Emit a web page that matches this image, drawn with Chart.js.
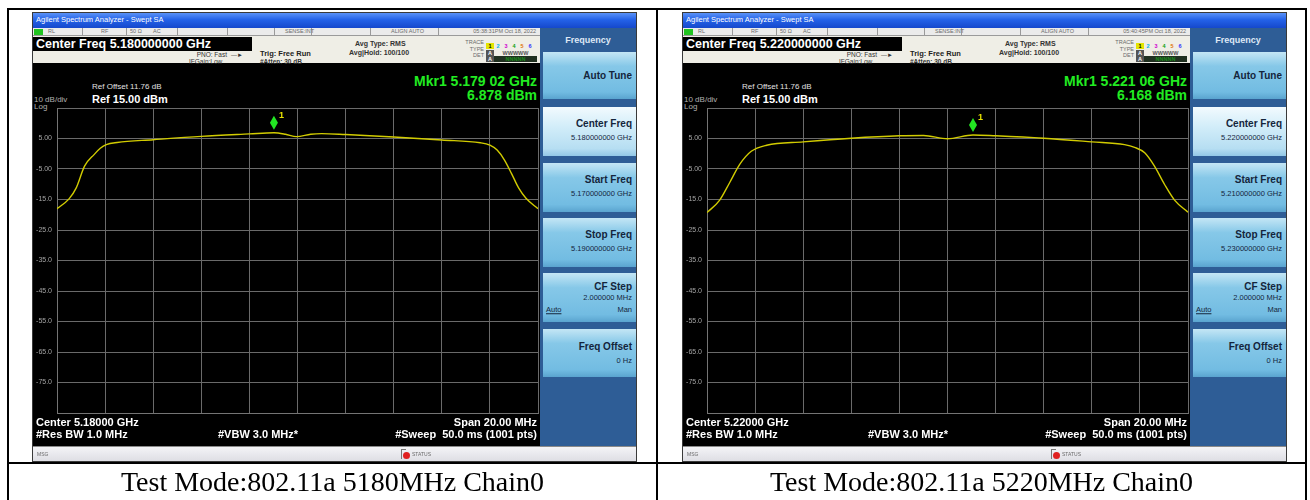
<!DOCTYPE html>
<html>
<head>
<meta charset="utf-8">
<script src="https://cdn.jsdelivr.net/npm/chart.js@4.4.0/dist/chart.umd.min.js"></script>
<style>
body { margin:0; width:1310px; height:500px; background:#fff; position:relative; overflow:hidden; font-family:"Liberation Sans", Arial, sans-serif; }
.ln { position:absolute; background:#000; }
.cap { position:absolute; top:464px; height:36px; line-height:36px; text-align:center; font-family:"Liberation Serif", "Times New Roman", serif; font-size:28px; color:#000; white-space:nowrap; }
.sa { position:absolute; top:12px; width:605px; height:450px; background:#000; border:1px solid #3a3a3a; box-sizing:border-box; overflow:hidden; }
.t { position:absolute; white-space:nowrap; transform:translateY(-50%); line-height:1; }
.r { transform:translate(-100%,-50%); }
.title { position:absolute; left:0; top:0; width:603px; height:15px; background:linear-gradient(#5a92f7,#2462e8 45%,#1548cc); }
.stat { position:absolute; left:0; top:15px; width:507px; height:8px; background:#ebebeb; border-bottom:1px solid #9a9a9a; box-sizing:border-box; }
.sep { position:absolute; top:0; width:1px; height:8px; background:#9a9a9a; }
.hdr { position:absolute; left:0; top:23px; width:507px; height:27px; background:#efeee6; }
.cfbox { position:absolute; left:0; top:24px; width:219px; height:14px; background:#000; }
.soft { position:absolute; left:507px; top:15px; width:96px; height:418px; background:#2e5d96; }
.btn { position:absolute; left:3px; width:93px; background:linear-gradient(#c4e6f5,#86c8e8 30%,#72bce2 85%,#5aa4cf); }
.btn.hi { background:linear-gradient(#f2fafe,#d2edf9 40%,#b6def2 85%,#93c8e6); }
.bt { font-weight:bold; font-size:10px; color:#14253c; }
.bv { font-size:7.5px; color:#14253c; }
.msg { position:absolute; left:0; top:433px; width:603px; height:15px; background:linear-gradient(#f4f4f7,#dedee4); border-top:1px solid #8a8a8a; box-sizing:border-box; }
.w { color:#fff; font-weight:bold; font-size:11px; }
.g { color:#b0b0b0; font-size:8px; }
.mk { color:#22ec22; font-weight:bold; font-size:14px; }
.sm { font-size:5.5px; color:#6a6a6a; }
.hd { font-size:6.5px; color:#333; }
.tb { display:inline-block; width:8px; height:6px; font-size:5.5px; line-height:6px; text-align:center; font-weight:bold; }
</style>
</head>
<body>
<script>
// spectrum traces (MHz, dBm)
const trace0Freq = [5170.0, 5170.5, 5170.8, 5171.15, 5171.55, 5171.8, 5172.05, 5172.5, 5174.0, 5176.0, 5178.0, 5179.02, 5179.5, 5179.96, 5180.55, 5181.0, 5182.0, 5184.0, 5186.0, 5187.6, 5188.0, 5188.3, 5188.6, 5188.9, 5189.2, 5189.5, 5190.0];
const trace0Level = [-18.0, -14.8, -11.2, -4.0, -0.2, 1.8, 3.0, 3.7, 4.6, 5.7, 6.5, 6.88, 6.4, 5.6, 6.4, 6.6, 6.3, 5.5, 4.5, 3.6, 2.8, 1.2, -2.0, -6.5, -11.3, -14.6, -18.0];
const trace1Freq = [5210.0, 5210.52, 5210.94, 5211.36, 5211.84, 5212.48, 5214.0, 5216.0, 5218.0, 5219.0, 5220.0, 5221.06, 5222.0, 5224.0, 5226.0, 5227.36, 5227.78, 5228.2, 5228.6, 5229.02, 5229.44, 5230.0];
const trace1Level = [-19.3, -15.3, -9.5, -3.5, 0.8, 2.8, 3.9, 5.1, 5.9, 6.0, 4.9, 6.17, 5.9, 5.1, 3.9, 3.0, 2.1, 0.3, -4.0, -10.0, -15.2, -19.2];

const spanStart = [5170, 5210];
const spanStop = [5190, 5230];
const mkrFreq = [5179.02, 5221.06];
const mkrLevel = [6.878, 6.168];

const yTickValues = [15, 5, -5, -15, -25, -35, -45, -55, -65, -75, -85];
const yTickLabels = ['', '5.00', '-5.00', '-15.0', '-25.0', '-35.0', '-45.0', '-55.0', '-65.0', '-75.0', ''];

const centerText = ['5.180000000 GHz', '5.220000000 GHz'];
const startText = ['5.170000000 GHz', '5.210000000 GHz'];
const stopText = ['5.190000000 GHz', '5.230000000 GHz'];
const centerShort = ['5.18000 GHz', '5.22000 GHz'];
const mkrText = ['Mkr1 5.179 02 GHz', 'Mkr1 5.221 06 GHz'];
const mkrDbm = ['6.878 dBm', '6.168 dBm'];
const timeText = ['05:38:31PM Oct 18, 2022', '05:40:45PM Oct 18, 2022'];
const captions = ['Test Mode:802.11a 5180MHz Chain0', 'Test Mode:802.11a 5220MHz Chain0'];

const panelX = [32, 682];

function t(x, y, txt, cls, extra) {
  return `<div class="t ${cls}" style="left:${x}px;top:${y}px;${extra || ''}">${txt}</div>`;
}

function button(top, h, hi, lines) {
  let s = `<div class="btn${hi ? ' hi' : ''}" style="top:${top}px;height:${h}px">`;
  lines.forEach(l => { s += t(l[0], l[1], l[2], l[3], l[4]); });
  return s + '</div>';
}

function panelHtml(i) {
  let h = `<div class="sa" style="left:${panelX[i]}px">`;
  h += '<div class="title">' + t(3, 7, 'Agilent Spectrum Analyzer - Swept SA', '', 'font-size:7.5px;color:#fff') + '</div>';
  // status row
  h += '<div class="stat">';
  [49, 93, 144, 194, 241, 278, 337, 405].forEach(x => { h += `<div class="sep" style="left:${x}px"></div>`; });
  h += `<div style="position:absolute;left:1px;top:1px;width:9px;height:6px;background:#21c421"></div>`;
  h += t(15, 4, 'RL', 'sm') + t(68, 4, 'RF', 'sm') + t(97, 4, '50 Ω', 'sm') + t(120, 4, 'AC', 'sm');
  h += t(252, 4, 'SENSE:INT', 'sm') + t(358, 4, 'ALIGN AUTO', 'sm') + t(503, 4, timeText[i], 'sm r');
  h += '</div>';
  // header
  h += '<div class="hdr"></div><div class="cfbox"></div>';
  h += t(3, 31, 'Center Freq ' + centerText[i], 'w', 'font-size:12.5px');
  h += t(194, 42, 'PNO: Fast', 'hd r') + t(198, 42, '—►', 'hd', 'font-size:6px');
  h += t(156, 49, 'IFGain:Low', 'hd');
  h += t(227, 41, 'Trig: Free Run', 'hd', 'font-size:7.5px;font-weight:bold;color:#222');
  h += t(227, 49, '#Atten: 30 dB', 'hd', 'font-weight:bold');
  h += t(322, 30, 'Avg Type: RMS', 'hd', 'font-size:7px;font-weight:bold');
  h += t(316, 39, 'Avg|Hold: 100/100', 'hd', 'font-size:7px;font-weight:bold');
  h += t(451, 30, 'TRACE', 'sm r') + t(451, 37, 'TYPE', 'sm r') + t(451, 43, 'DET', 'sm r');
  const trc = [['1', '#000', '#e4e400'], ['2', '#00b4e6', 'none'], ['3', '#d000d0', 'none'], ['4', '#10a010', 'none'], ['5', '#e07000', 'none'], ['6', '#3030ff', 'none']];
  h += t(453, 30, trc.map(c => `<span class="tb" style="color:${c[1]};background:${c[2]}">${c[0]}</span>`).join(''), '');
  h += t(453, 37, '<span class="tb" style="background:#555;color:#fff">A</span>' + '<span class="tb" style="width:43px;color:#555">WWWWW</span>', '');
  h += t(453, 43, '<span class="tb" style="background:#555;color:#fff">A</span>' + '<span class="tb" style="width:43px;color:#1c8a1c;background:#203020">NNNNN</span>', '');
  // display texts
  h += t(504, 68, mkrText[i], 'mk r') + t(504, 82, mkrDbm[i], 'mk r');
  h += t(59, 74, 'Ref Offset 11.76 dB', 'g', 'color:#e0e0e0');
  h += t(1, 87, '10 dB/div', 'g') + t(59, 86, 'Ref 15.00 dBm', 'w');
  h += t(1, 94, 'Log', 'g');
  h += `<canvas id="c${i}" width="506" height="317" style="position:absolute;left:0;top:88px"></canvas>`;
  h += t(3, 409, 'Center ' + centerShort[i], 'w') + t(504, 409, 'Span 20.00 MHz', 'w r');
  h += t(3, 421, '#Res BW 1.0 MHz', 'w') + t(185, 421, '#VBW 3.0 MHz*', 'w') + t(504, 421, '#Sweep&nbsp; 50.0 ms (1001 pts)', 'w r');
  // softkeys
  h += '<div class="soft">';
  h += t(48, 12, 'Frequency', '', 'font-size:9px;font-weight:bold;color:#dfe8f5;transform:translate(-50%,-50%)');
  h += button(24, 47, false, [[89, 24, 'Auto Tune', 'bt r']]);
  h += button(79, 49, true, [[89, 17, 'Center Freq', 'bt r'], [89, 31, centerText[i], 'bv r']]);
  h += button(135, 49, false, [[89, 17, 'Start Freq', 'bt r'], [89, 31, startText[i], 'bv r']]);
  h += button(190, 49, false, [[89, 17, 'Stop Freq', 'bt r'], [89, 31, stopText[i], 'bv r']]);
  h += button(245, 49, false, [[89, 14, 'CF Step', 'bt r'], [89, 25, '2.000000 MHz', 'bv r'], [3, 37, 'Auto', 'bv', 'text-decoration:underline'], [89, 37, 'Man', 'bv r']]);
  h += button(301, 48, false, [[89, 18, 'Freq Offset', 'bt r'], [89, 32, '0 Hz', 'bv r']]);
  h += '</div>';
  // message bar
  h += '<div class="msg">' + t(4, 7, 'MSG', 'sm', 'font-size:5px') +
    `<div style="position:absolute;left:368px;top:2px;width:4px;height:9px;border-left:1px solid #777;border-top:1px solid #777"></div>` +
    `<div style="position:absolute;left:370px;top:5px;width:7px;height:7px;border-radius:50%;background:#e02020"></div>` +
    t(379, 7, 'STATUS', 'sm', 'font-size:5px') + '</div>';
  h += '</div>';
  return h;
}

let page = '';
page += '<div class="ln" style="left:7px;top:8px;width:1300px;height:2px"></div>';
page += '<div class="ln" style="left:7px;top:8px;width:2px;height:492px"></div>';
page += '<div class="ln" style="left:656px;top:8px;width:2px;height:492px"></div>';
page += '<div class="ln" style="left:1305px;top:8px;width:2px;height:492px"></div>';
page += '<div class="ln" style="left:7px;top:462px;width:1300px;height:2px"></div>';
page += panelHtml(0) + panelHtml(1);
page += `<div class="cap" style="left:9px;width:647px">${captions[0]}</div>`;
page += `<div class="cap" style="left:658px;width:647px">${captions[1]}</div>`;
document.body.insertAdjacentHTML('beforeend', page);

const markerPlugin = {
  id: 'mkr',
  afterDatasetsDraw(chart, args, opts) {
    const x = chart.scales.x.getPixelForValue(opts.freq);
    const y = chart.scales.y.getPixelForValue(opts.level);
    const ctx = chart.ctx;
    ctx.save();
    ctx.fillStyle = '#22e622';
    ctx.beginPath();
    ctx.moveTo(x, y - 17);
    ctx.lineTo(x + 4, y - 10);
    ctx.lineTo(x, y - 3);
    ctx.lineTo(x - 4, y - 10);
    ctx.closePath();
    ctx.fill();
    ctx.fillStyle = '#e6e000';
    ctx.font = 'bold 9px "Liberation Sans"';
    ctx.textBaseline = 'middle';
    ctx.fillText('1', x + 5, y - 17);
    ctx.restore();
  }
};

function noPad(s) {
  s.paddingTop = 0;
  s.paddingBottom = 0;
  s.paddingLeft = 0;
  s.paddingRight = 0;
}

function makeChart(i, freqs, levels) {
  return new Chart(document.getElementById('c' + i), {
    type: 'line',
    data: {
      datasets: [{
        data: freqs.map((f, k) => ({ x: f, y: levels[k] })),
        borderColor: '#d2cc00',
        borderWidth: 1.4,
        pointRadius: 0,
        cubicInterpolationMode: 'monotone'
      }]
    },
    options: {
      responsive: false,
      animation: false,
      devicePixelRatio: 1,
      layout: { padding: { top: 7, bottom: 5, left: 0, right: 1 } },
      scales: {
        x: {
          type: 'linear',
          min: spanStart[i],
          max: spanStop[i],
          ticks: { display: false, stepSize: 2 },
          grid: { color: '#6a6a6a', drawTicks: false },
          border: { color: '#747474' },
          afterFit: s => { s.height = 0; noPad(s); }
        },
        y: {
          min: -85,
          max: 15,
          afterBuildTicks: s => { s.ticks = yTickValues.map(v => ({ value: v })); },
          ticks: {
            padding: 5,
            color: '#a4a4a4',
            font: { size: 7, family: 'Liberation Sans' },
            callback: v => yTickLabels[yTickValues.indexOf(v)]
          },
          grid: { color: '#6a6a6a', drawTicks: false },
          border: { color: '#747474' },
          afterFit: s => { s.width = 24; noPad(s); }
        }
      },
      plugins: {
        legend: { display: false },
        tooltip: { enabled: false },
        mkr: { freq: mkrFreq[i], level: mkrLevel[i] }
      }
    },
    plugins: [markerPlugin]
  });
}

makeChart(0, trace0Freq, trace0Level);
makeChart(1, trace1Freq, trace1Level);
</script>
</body>
</html>
